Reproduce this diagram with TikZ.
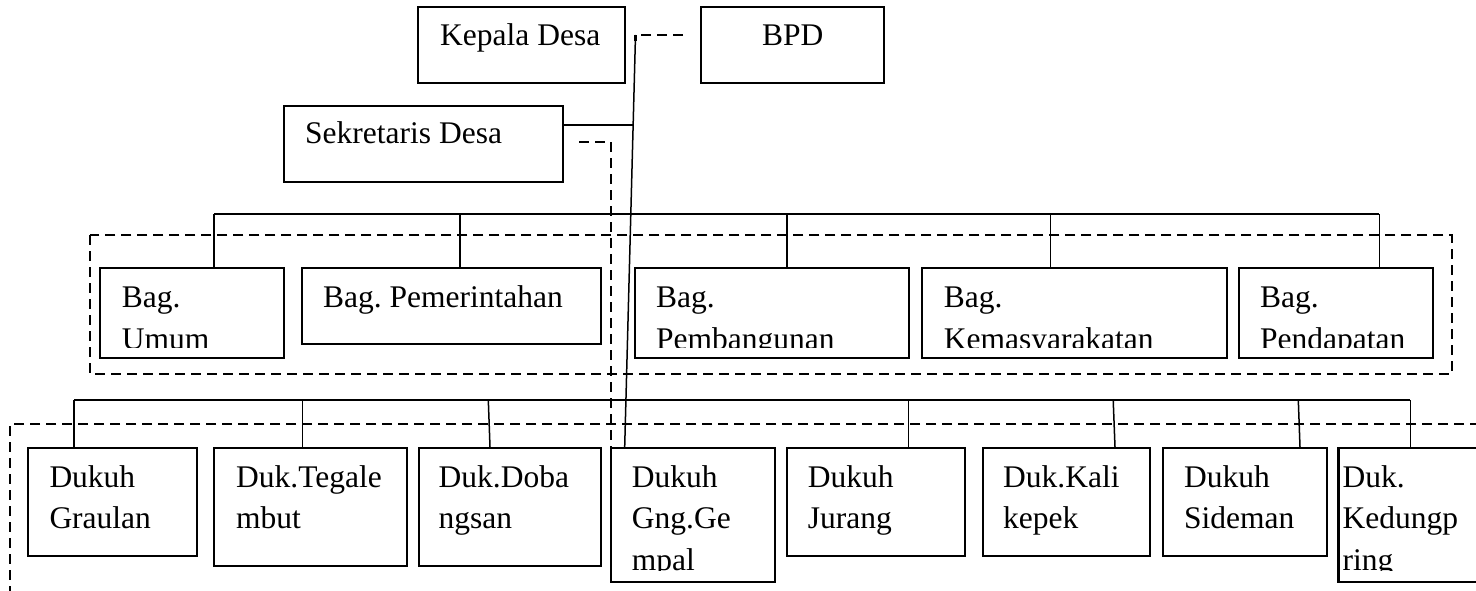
\documentclass[tikz,border=0pt]{standalone}
\usepackage{fontspec}
\setmainfont{Liberation Serif}
\frenchspacing
\usetikzlibrary{fit}
\begin{document}
\begin{tikzpicture}[x=1pt,y=-1pt,
  orgbox/.style={draw, line width=2.2pt, inner sep=0pt},
  lbl/.style={anchor=base west, inner sep=0pt, font=\fontsize{31.5}{40.5}\selectfont},
  link/.style={line width=1.5pt},
  dlink/.style={line width=2.3pt, dash pattern=on 10pt off 6pt},
  dframe/.style={line width=2.3pt, dash pattern=on 10pt off 6pt}]
\useasboundingbox (0,0) rectangle (1476,591);
\clip (0,0) rectangle (1476,591);
\fill[white] (0,0) rectangle (1476,591);

% ---------- boxes ----------
\node[orgbox, fit={(418,7) (625,83)}] (kd) {};
\node[orgbox, fit={(700.7,7) (884,83)}] (bpd) {};
\node[orgbox, fit={(284,105.7) (562.7,181.7)}] (sd) {};
\node[orgbox, fit={(100,268) (284,358)}] (bu) {};
\node[orgbox, fit={(301.7,268) (600.7,344)}] (bp) {};
\node[orgbox, fit={(634.7,268) (908.7,357.7)}] (bb) {};
\node[orgbox, fit={(922,268) (1226.7,357.7)}] (bk) {};
\node[orgbox, fit={(1238.7,268) (1433.3,357.7)}] (bd) {};
\node[orgbox, fit={(27.7,448) (196.7,555.7)}] (gr) {};
\node[orgbox, fit={(214.3,448) (406.7,565.7)}] (tg) {};
\node[orgbox, fit={(418.7,448) (600.7,565.7)}] (db) {};
\node[orgbox, fit={(610.7,448) (775,581.7)}] (gg) {};
\node[orgbox, fit={(786.7,448) (965,555.7)}] (jr) {};
\node[orgbox, fit={(983,448) (1150,555.7)}] (kk) {};
\node[orgbox, fit={(1163,448) (1326.6,555.7)}] (sm) {};
\node[orgbox, fit={(1338.5,448) (1500,581.7)}] (kp) {};

% ---------- texts ----------
\node[lbl] (kd-t) at (440,45.5) {Kepala Desa};
\node[lbl] (bpd-t) at (762,45.5) {BPD};
\node[lbl] (sd-t) at (305,144) {Sekretaris Desa};

\begin{scope}
\clip (bu.north west) rectangle (284,347);
\node[lbl] (bu-a) at (121.7,307.5) {Bag.};
\node[lbl] (bu-b) at (121.7,349) {Umum};
\end{scope}
\node[lbl] (bp-a) at (323,307) {Bag. Pemerintahan};
\begin{scope}
\clip (bb.north west) rectangle (908.7,347);
\node[lbl] (bb-a) at (656,307.5) {Bag.};
\node[lbl] (bb-b) at (656,349) {Pembangunan};
\end{scope}
\begin{scope}
\clip (bk.north west) rectangle (1226.7,347);
\node[lbl] (bk-a) at (943.6,307.5) {Bag.};
\node[lbl] (bk-b) at (943.6,349) {Kemasyarakatan};
\end{scope}
\begin{scope}
\clip (bd.north west) rectangle (1433.3,347);
\node[lbl] (bd-a) at (1260,307.5) {Bag.};
\node[lbl] (bd-b) at (1260,349) {Pendapatan};
\end{scope}

\node[lbl] (gr-a) at (49.3,487.7) {Dukuh};
\node[lbl] (gr-b) at (49.3,528.3) {Graulan};
\node[lbl] (tg-a) at (236,487.7) {Duk.Tegale};
\node[lbl] (tg-b) at (236,528.3) {mbut};
\node[lbl] (db-a) at (438.5,487.7) {Duk.Doba};
\node[lbl] (db-b) at (438.5,528.3) {ngsan};
\begin{scope}
\clip (gg.north west) rectangle (775,570);
\node[lbl] (gg-a) at (631.7,487.7) {Dukuh};
\node[lbl] (gg-b) at (631.7,528.3) {Gng.Ge};
\node[lbl] (gg-c) at (631.7,570.5) {mpal};
\end{scope}
\node[lbl] (jr-a) at (807.7,487.7) {Dukuh};
\node[lbl] (jr-b) at (807.7,528.3) {Jurang};
\node[lbl] (kk-a) at (1003,487.7) {Duk.Kali};
\node[lbl] (kk-b) at (1003,528.3) {kepek};
\node[lbl] (sm-a) at (1184,487.7) {Dukuh};
\node[lbl] (sm-b) at (1184,528.3) {Sideman};
\begin{scope}
\clip (kp.north west) rectangle (1476,570);
\node[lbl] (kp-a) at (1342.5,487.7) {Duk.};
\node[lbl] (kp-b) at (1342.5,528.3) {Kedungp};
\node[lbl] (kp-c) at (1342.5,570.5) {ring};
\end{scope}

% ---------- dashed frames ----------
\draw[dframe] (90,235) rectangle (1451.7,374);
\draw[dframe] (1480,424) -- (10,424) -- (10,600);

% ---------- connectors ----------
\coordinate (mtop) at (635.5,35);
\coordinate (mbot) at (624.7,448);
\coordinate (dbp) at (683,35);
\draw[dlink] (dbp) -- (mtop) -- ++(0,6);
\draw[link] (mtop) -- (mbot |- gg.north);

\coordinate (sj) at (633.6,125);
\draw[link] (sd.east |- sj) -- (sj);

\coordinate (sdd) at (579,142);
\coordinate (sdc) at (610.7,142);
\draw[dlink] (sdd) -- (sdc) -- (sdc |- gg.north);

% upper bus
\coordinate (u1) at (214,214);
\coordinate (u2) at (460,214);
\coordinate (u3) at (787,214);
\coordinate (u4) at (1050.7,214);
\coordinate (u5) at (1379.3,214);
\draw[link] (u1) -- (u5);
\draw[link] (u1) -- (u1 |- bu.north);
\draw[link] (u2) -- (u2 |- bp.north);
\draw[link] (u3) -- (u3 |- bb.north);
\draw[link] (u4) -- (u4 |- bk.north);
\draw[link] (u5) -- (u5 |- bd.north);

% lower bus
\coordinate (l1) at (74,400);
\coordinate (l2) at (302.3,400);
\coordinate (l3) at (488.3,400);
\coordinate (l4) at (908.7,400);
\coordinate (l5) at (1113.2,400);
\coordinate (l6) at (1298.3,400);
\coordinate (l7) at (1410.4,400);
\draw[link] (l1) -- (l7);
\draw[link] (l1) -- (l1 |- gr.north);
\draw[link] (l2) -- (l2 |- tg.north);
\draw[link] (l3) -- ([xshift=1.7pt]l3 |- db.north);
\draw[link] (l4) -- (l4 |- jr.north);
\draw[link] (l5) -- ([xshift=1.8pt]l5 |- kk.north);
\draw[link] (l6) -- ([xshift=1.7pt]l6 |- sm.north);
\draw[link] (l7) -- (l7 |- kp.north);
\end{tikzpicture}
\end{document}
